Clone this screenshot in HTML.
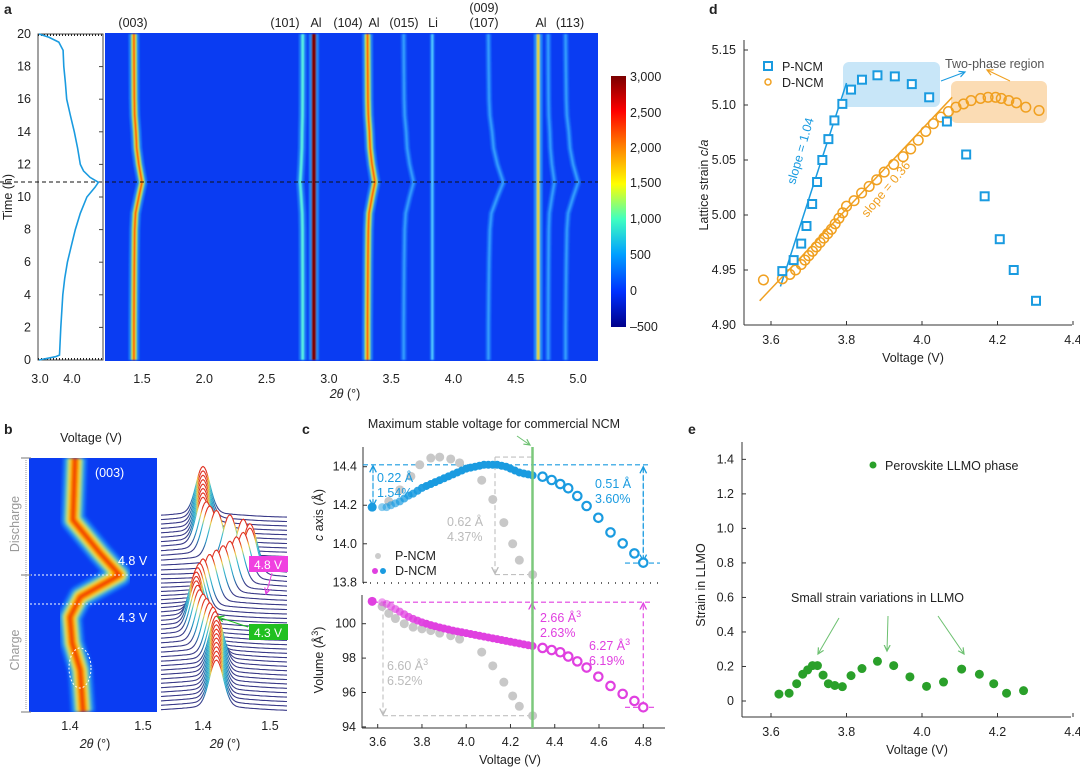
<!DOCTYPE html>
<html><head><meta charset="utf-8"><style>
html,body{margin:0;padding:0;background:#fff;}
svg{display:block;font-family:"Liberation Sans",sans-serif;}
text{fill:#222;}
</style></head><body>
<svg id="fig" xmlns="http://www.w3.org/2000/svg" width="1080" height="770" viewBox="0 0 1080 770">
<defs>
<linearGradient id="jet" x1="0" y1="0" x2="0" y2="1">
<stop offset="0" stop-color="#7a0000"/><stop offset="0.14" stop-color="#ff0000"/><stop offset="0.28" stop-color="#ff8000"/><stop offset="0.43" stop-color="#ffff00"/><stop offset="0.57" stop-color="#40ffc0"/><stop offset="0.71" stop-color="#00a0ff"/><stop offset="0.86" stop-color="#0030ff"/><stop offset="1" stop-color="#00008a"/>
</linearGradient>
<filter id="soft" x="-10%" y="-10%" width="120%" height="120%"><feGaussianBlur stdDeviation="0.9"/></filter>
<filter id="softB" x="-20%" y="-10%" width="140%" height="120%"><feGaussianBlur stdDeviation="1.6"/></filter>
<clipPath id="clipA"><rect x="105" y="33" width="493" height="328"/></clipPath>
<clipPath id="clipB"><rect x="29" y="458" width="128" height="254"/></clipPath>
<marker id="arrB" markerWidth="8" markerHeight="8" refX="6" refY="4" orient="auto"><path d="M0,1 L6,4 L0,7" fill="none" stroke="#1a9be0" stroke-width="1.2"/></marker>
<marker id="arrO" markerWidth="8" markerHeight="8" refX="6" refY="4" orient="auto"><path d="M0,1 L6,4 L0,7" fill="none" stroke="#f0a020" stroke-width="1.2"/></marker>
<marker id="arrG" markerWidth="8" markerHeight="8" refX="6" refY="4" orient="auto"><path d="M0,1 L6,4 L0,7" fill="none" stroke="#6cc070" stroke-width="1.2"/></marker>
<marker id="arrM" markerWidth="8" markerHeight="8" refX="6" refY="4" orient="auto"><path d="M0,1 L6,4 L0,7" fill="none" stroke="#e040e0" stroke-width="1.2"/></marker>
<marker id="arrGr" markerWidth="8" markerHeight="8" refX="6" refY="4" orient="auto"><path d="M0,1 L6,4 L0,7" fill="none" stroke="#bbb" stroke-width="1.2"/></marker>
<marker id="arrGreen" markerWidth="8" markerHeight="8" refX="6" refY="4" orient="auto"><path d="M0,1 L6,4 L0,7" fill="none" stroke="#20c020" stroke-width="1.2"/></marker>
</defs>

<text x="4" y="14" font-size="14" font-weight="bold">a</text>
<text x="4" y="434" font-size="14" font-weight="bold">b</text>
<text x="302" y="434" font-size="14" font-weight="bold">c</text>
<text x="709" y="14" font-size="14" font-weight="bold">d</text>
<text x="688" y="434" font-size="14" font-weight="bold">e</text>

<!-- Panel a -->
<g>
<rect x="38" y="34" width="65" height="326" fill="#fff" stroke="#444" stroke-width="1"/>
<line x1="38" y1="35" x2="103" y2="35" stroke="#222" stroke-width="2" stroke-dasharray="1,2"/>
<line x1="38" y1="359" x2="103" y2="359" stroke="#222" stroke-width="2" stroke-dasharray="1,2"/>
<rect x="105" y="33" width="493" height="328" fill="#0a3cf2"/>
<g id="heatA" clip-path="url(#clipA)" filter="url(#soft)"></g>
<line x1="0" y1="182" x2="598" y2="182" stroke="#111" stroke-width="1" stroke-dasharray="4,3"/>
<g font-size="12.5" text-anchor="middle">
<text x="133" y="27">(003)</text><text x="285" y="27">(101)</text><text x="316" y="27">Al</text><text x="348" y="27">(104)</text><text x="374" y="27">Al</text><text x="404" y="27">(015)</text><text x="433" y="27">Li</text><text x="484" y="12">(009)</text><text x="484" y="27">(107)</text><text x="541" y="27">Al</text><text x="570" y="27">(113)</text>
</g>
<g id="timeTicks" font-size="12.5" text-anchor="end"></g>
<text transform="translate(12,197) rotate(-90)" font-size="12.5" text-anchor="middle">Time (h)</text>
<text x="40" y="383" font-size="12.5" text-anchor="middle">3.0</text>
<text x="72" y="383" font-size="12.5" text-anchor="middle">4.0</text>
<g id="thetaTicks" font-size="12.5" text-anchor="middle"></g>
<text x="345" y="398" font-size="12.5" text-anchor="middle"><tspan font-style="italic">2θ</tspan> (°)</text>
<rect x="611" y="76" width="15" height="251" fill="url(#jet)"/>
<g font-size="12.5">
<text x="630" y="81">3,000</text><text x="630" y="117">2,500</text><text x="630" y="152">2,000</text><text x="630" y="187">1,500</text><text x="630" y="223">1,000</text><text x="630" y="259">500</text><text x="630" y="295">0</text><text x="630" y="331">–500</text>
</g>
</g>

<!-- Panel b -->
<g>
<text x="91" y="442" font-size="12.5" text-anchor="middle">Voltage (V)</text>
<rect x="29" y="458" width="128" height="254" fill="#0a3cf2"/>
<g id="heatB" clip-path="url(#clipB)" filter="url(#softB)"></g>
<text x="95" y="477" font-size="12.5" style="fill:#fff">(003)</text>
<line x1="22" y1="575" x2="160" y2="575" stroke="#fff" stroke-dasharray="2,2"/>
<line x1="22" y1="604" x2="160" y2="604" stroke="#fff" stroke-dasharray="2,2"/>
<text x="118" y="565" font-size="12.5" style="fill:#fff">4.8 V</text>
<text x="118" y="622" font-size="12.5" style="fill:#fff">4.3 V</text>
<ellipse cx="80" cy="668" rx="11" ry="20" fill="none" stroke="#fff" stroke-dasharray="2,2"/>
<line x1="26" y1="460" x2="26" y2="710" stroke="#999" stroke-dasharray="1,1"/>
<line x1="21" y1="458" x2="31" y2="458" stroke="#777"/><line x1="21" y1="575" x2="31" y2="575" stroke="#777"/><line x1="21" y1="712" x2="31" y2="712" stroke="#777"/>
<text transform="translate(19,524) rotate(-90)" font-size="12.5" text-anchor="middle" style="fill:#999">Discharge</text>
<text transform="translate(19,650) rotate(-90)" font-size="12.5" text-anchor="middle" style="fill:#999">Charge</text>
<g id="waterfall"></g>
<rect x="249" y="556" width="39" height="16" fill="#f040e0"/>
<text x="268" y="569" font-size="12" text-anchor="middle" style="fill:#fff">4.8 V</text>
<line x1="272" y1="573" x2="266" y2="594" stroke="#f040e0" marker-end="url(#arrM)"/>
<rect x="249" y="624" width="39" height="16" fill="#20c020"/>
<text x="268" y="637" font-size="12" text-anchor="middle" style="fill:#fff">4.3 V</text>
<line x1="248" y1="627" x2="218" y2="617" stroke="#20c020" marker-end="url(#arrGreen)"/>
<g font-size="12.5" text-anchor="middle">
<text x="70" y="730">1.4</text><text x="143" y="730">1.5</text><text x="203" y="730">1.4</text><text x="270" y="730">1.5</text>
</g>
<text x="95" y="748" font-size="12.5" text-anchor="middle"><tspan font-style="italic">2θ</tspan> (°)</text>
<text x="225" y="748" font-size="12.5" text-anchor="middle"><tspan font-style="italic">2θ</tspan> (°)</text>
</g>

<!-- Panel c -->
<g>
<text x="494" y="428" font-size="12.5" text-anchor="middle">Maximum stable voltage for commercial NCM</text>
<line x1="517" y1="436" x2="530" y2="445" stroke="#6cc070" marker-end="url(#arrG)"/>
<line x1="363" y1="447" x2="363" y2="583" stroke="#333"/>
<line x1="363" y1="583" x2="660" y2="583" stroke="#333" stroke-dasharray="1,6" stroke-width="1.5"/>
<line x1="362" y1="595" x2="362" y2="728" stroke="#333"/>
<line x1="362" y1="728" x2="665" y2="728" stroke="#333"/>
<g id="cTicks" font-size="12.5"></g>
<text transform="translate(323,515) rotate(-90)" font-size="12.5" text-anchor="middle"><tspan font-style="italic">c</tspan> axis (Å)</text>
<text transform="translate(323,660) rotate(-90)" font-size="12.5" text-anchor="middle">Volume (Å<tspan baseline-shift="super" font-size="9">3</tspan>)</text>
<text x="510" y="764" font-size="12.5" text-anchor="middle">Voltage (V)</text>
<g id="cAnno"></g>
<g id="cMarks"></g>
<line x1="532.5" y1="447" x2="532.5" y2="728" stroke="#7cc87c" stroke-width="2.5"/>
<g font-size="12.5">
<text x="377" y="482" style="fill:#1a9be0">0.22 Å</text><text x="377" y="497" style="fill:#1a9be0">1.54%</text>
<text x="595" y="488" style="fill:#1a9be0">0.51 Å</text><text x="595" y="503" style="fill:#1a9be0">3.60%</text>
<text x="447" y="526" style="fill:#bbb">0.62 Å</text><text x="447" y="541" style="fill:#bbb">4.37%</text>
<text x="540" y="622" style="fill:#e040e0">2.66 Å<tspan baseline-shift="super" font-size="9">3</tspan></text><text x="540" y="637" style="fill:#e040e0">2.63%</text>
<text x="589" y="650" style="fill:#e040e0">6.27 Å<tspan baseline-shift="super" font-size="9">3</tspan></text><text x="589" y="665" style="fill:#e040e0">6.19%</text>
<text x="387" y="670" style="fill:#bbb">6.60 Å<tspan baseline-shift="super" font-size="9">3</tspan></text><text x="387" y="685" style="fill:#bbb">6.52%</text>
</g>
<circle cx="378" cy="556" r="3" fill="#ccc"/>
<text x="395" y="560" font-size="12.5">P-NCM</text>
<circle cx="375" cy="571" r="3" fill="#e040e0"/><circle cx="383" cy="571" r="3" fill="#1a9be0"/>
<text x="395" y="575" font-size="12.5">D-NCM</text>
</g>

<!-- Panel d -->
<g>
<rect x="843" y="62" width="97" height="45" rx="6" fill="#c8e6f8"/>
<rect x="951" y="81" width="96" height="42" rx="6" fill="#fbdcb4"/>
<line x1="744" y1="40" x2="744" y2="325" stroke="#333"/>
<line x1="744" y1="325" x2="1072" y2="325" stroke="#333"/>
<g id="dTicks" font-size="12.5"></g>
<text transform="translate(708,185) rotate(-90)" font-size="12.5" text-anchor="middle">Lattice strain <tspan font-style="italic">c</tspan>/<tspan font-style="italic">a</tspan></text>
<text x="913" y="362" font-size="12.5" text-anchor="middle">Voltage (V)</text>
<g id="dMarks"></g>
<rect x="764" y="62" width="8" height="8" fill="none" stroke="#1a9be0" stroke-width="2"/>
<text x="782" y="71" font-size="12.5">P-NCM</text>
<circle cx="768" cy="82" r="3" fill="none" stroke="#f0a020" stroke-width="1.5"/>
<text x="782" y="87" font-size="12.5">D-NCM</text>
<text x="945" y="68" font-size="12.5" style="fill:#555">Two-phase region</text>
<line x1="941" y1="81" x2="965" y2="72" stroke="#1a9be0" marker-end="url(#arrB)"/>
<line x1="1010" y1="81" x2="987" y2="70" stroke="#f0a020" marker-end="url(#arrO)"/>
<text transform="translate(795,185) rotate(-74)" font-size="12.5" style="fill:#1a9be0">slope = 1.04</text>
<text transform="translate(867,218) rotate(-50)" font-size="12.5" style="fill:#f0a020">slope = 0.36</text>
</g>

<!-- Panel e -->
<g>
<line x1="742" y1="442" x2="742" y2="717" stroke="#333"/>
<line x1="742" y1="717" x2="1071" y2="717" stroke="#333"/>
<g id="eTicks" font-size="12.5"></g>
<text transform="translate(705,585) rotate(-90)" font-size="12.5" text-anchor="middle">Strain in LLMO</text>
<text x="917" y="754" font-size="12.5" text-anchor="middle">Voltage (V)</text>
<circle cx="873" cy="465" r="3.5" fill="#2aa02a"/>
<text x="885" y="470" font-size="12.5">Perovskite LLMO phase</text>
<text x="791" y="602" font-size="12.5">Small strain variations in LLMO</text>
<line x1="839" y1="618" x2="818" y2="654" stroke="#6cc070" marker-end="url(#arrG)"/>
<line x1="888" y1="616" x2="887" y2="651" stroke="#6cc070" marker-end="url(#arrG)"/>
<line x1="938" y1="616" x2="964" y2="654" stroke="#6cc070" marker-end="url(#arrG)"/>
<g id="eMarks"></g>
</g>
</svg>
<script>
// ---------- data ----------
const timeTicks = [0,2,4,6,8,10,12,14,16,18,20];
const thetaTicks = [1.5,2.0,2.5,3.0,3.5,4.0,4.5,5.0];
const voltTime = [0,0.2,0.3,2,4,5,6,7,8,9,10,10.6,10.9,11.2,11.6,12,13,14,15,16,17,18,19,19.5,19.8,20];
const voltValue = [3.0,3.5,3.62,3.66,3.72,3.78,3.86,3.98,4.1,4.25,4.45,4.7,4.8,4.55,4.35,4.25,4.17,4.07,3.95,3.84,3.8,3.75,3.73,3.6,3.3,3.0];
const profTime = [0,2,4,6,8,9,10,10.9,12,13,14,15,16,18,20];
const profShift = [0,0,0.02,0.05,0.1,0.2,0.6,1,0.6,0.35,0.25,0.1,0.05,0.02,0];
const peakPos = [1.435,2.79,2.88,3.31,3.6,3.83,4.28,4.68,4.76,4.9];
const peakShift = [0.065,-0.02,0,0.06,0.08,0,0.12,0,0.05,0.1];
const peakKind = ['strong','cyan','al','strong','faint','li','faint','al2','faint','faint'];
const bandY = [458,520,553,575,597,617,643,670,712];
const bandTheta = [1.407,1.404,1.441,1.468,1.414,1.400,1.403,1.414,1.418];
const wfCount = 45;
const wfTheta = [1.42,1.42,1.42,1.42,1.42,1.42,1.42,1.42,1.42,1.42,1.42,1.418,1.415,1.41,1.405,1.40,1.395,1.392,1.39,1.39,1.39,1.392,1.395,1.40,1.41,1.42,1.43,1.44,1.45,1.46,1.47,1.47,1.46,1.44,1.42,1.41,1.405,1.40,1.40,1.40,1.40,1.40,1.40,1.40,1.40];
const cTopTicks = [14.4,14.2,14.0,13.8];
const cBotTicks = [100,98,96,94];
const cXTicks = [3.6,3.8,4.0,4.2,4.4,4.6,4.8];
const dFilledV = [3.575,3.62,3.64,3.66,3.68,3.70,3.72,3.74,3.76,3.78,3.80,3.82,3.84,3.86,3.88,3.90,3.92,3.94,3.96,3.98,4.00,4.02,4.04,4.06,4.08,4.10,4.12,4.14,4.16,4.18,4.20,4.22,4.24,4.26,4.28,4.30];
const dFilledC = [14.19,14.19,14.19,14.20,14.21,14.22,14.235,14.25,14.26,14.275,14.29,14.30,14.31,14.32,14.33,14.34,14.35,14.36,14.37,14.38,14.39,14.395,14.40,14.405,14.41,14.41,14.41,14.41,14.405,14.40,14.39,14.38,14.37,14.365,14.36,14.355];
const dFilledVol = [101.3,101.25,101.15,101.0,100.85,100.7,100.55,100.4,100.28,100.18,100.08,100.0,99.92,99.85,99.78,99.72,99.66,99.6,99.55,99.5,99.45,99.4,99.35,99.3,99.25,99.2,99.15,99.1,99.05,99.0,98.95,98.9,98.85,98.8,98.75,98.7];
const dOpenV = [4.345,4.386,4.425,4.461,4.502,4.544,4.597,4.652,4.707,4.76,4.80];
const dOpenC = [14.348,14.331,14.31,14.288,14.248,14.196,14.135,14.059,14.002,13.95,13.902];
const dOpenVol = [98.59,98.47,98.34,98.09,97.81,97.45,96.92,96.38,95.92,95.51,95.14];
const pGreyV = [3.65,3.70,3.75,3.79,3.84,3.88,3.93,3.97,4.07,4.12,4.17,4.21,4.24,4.30];
const pGreyC = [14.22,14.28,14.35,14.41,14.445,14.45,14.44,14.42,14.33,14.23,14.11,14.0,13.915,13.84];
const pVolV = [3.62,3.65,3.68,3.72,3.76,3.80,3.84,3.88,3.93,3.97,4.07,4.12,4.17,4.21,4.24,4.30];
const pVolVal = [101.0,100.6,100.3,100.0,99.8,99.7,99.6,99.45,99.3,99.1,98.35,97.55,96.6,95.8,95.2,94.65];
const dYTicks = [4.90,4.95,5.00,5.05,5.10,5.15];
const dXTicks = [3.6,3.8,4.0,4.2,4.4];
const sqV = [3.63,3.66,3.68,3.694,3.709,3.722,3.736,3.752,3.768,3.789,3.812,3.841,3.882,3.928,3.973,4.019,4.066,4.117,4.166,4.206,4.243,4.302];
const sqR = [4.949,4.959,4.974,4.990,5.010,5.030,5.050,5.069,5.086,5.101,5.114,5.123,5.127,5.126,5.119,5.107,5.085,5.055,5.017,4.978,4.950,4.922];
const ciV = [3.58,3.63,3.65,3.665,3.68,3.69,3.70,3.71,3.72,3.73,3.74,3.75,3.76,3.77,3.78,3.79,3.80,3.82,3.84,3.86,3.88,3.90,3.925,3.95,3.97,3.99,4.01,4.03,4.05,4.07,4.09,4.11,4.13,4.155,4.175,4.195,4.21,4.23,4.25,4.275,4.31];
const ciR = [4.941,4.942,4.946,4.950,4.955,4.959,4.963,4.967,4.971,4.975,4.979,4.983,4.987,4.992,4.997,5.002,5.008,5.013,5.020,5.026,5.032,5.039,5.046,5.053,5.060,5.068,5.076,5.083,5.089,5.094,5.098,5.101,5.104,5.106,5.107,5.107,5.106,5.104,5.102,5.098,5.095];
const fitPV = [3.625,3.80], fitPR = [4.935,5.12];
const fitDV = [3.57,4.08], fitDR = [4.922,5.107];
const eYTicks = [0,0.2,0.4,0.6,0.8,1.0,1.2,1.4];
const eXTicks = [3.6,3.8,4.0,4.2,4.4];
const eV = [3.621,3.648,3.668,3.684,3.697,3.71,3.723,3.738,3.752,3.769,3.789,3.812,3.841,3.882,3.925,3.968,4.012,4.057,4.105,4.152,4.19,4.224,4.269];
const eS = [0.04,0.045,0.10,0.155,0.18,0.205,0.205,0.15,0.10,0.09,0.083,0.147,0.188,0.23,0.205,0.14,0.085,0.11,0.185,0.155,0.10,0.045,0.06];

// ---------- scales ----------
const NS = 'http://www.w3.org/2000/svg';
function mk(parent, tag, attrs){const e=document.createElementNS(NS,tag);for(const k in attrs)e.setAttribute(k,attrs[k]);parent.appendChild(e);return e;}
const g = id => document.getElementById(id);
const ax = th => 142 + (th-1.5)*124.6;
const at = t => 360 - t*16.3;
const vx = v => 39 + (v-3)*33;
const bx = th => 70 + (th-1.4)*730;
const wx = th => 203 + (th-1.4)*670;
const cx = v => 377.7 + (v-3.6)*221.3;
const cyT = c => 466.7 + (14.4-c)*192.7;
const cyB = v => 623.7 + (100-v)*17.2;
const dx = v => 771 + (v-3.6)*377.5;
const dy = r => 50 + (5.15-r)*1100;
const ey = s => 701 - s*172.6;
const svg = g('fig');

// ---------- panel a ----------
timeTicks.forEach(t=>{
  const tx = mk(g('timeTicks'),'text',{x:31,y:at(t)+4});
  tx.textContent = t;
  
  
  const tk = mk(g('timeTicks'),'line',{x1:99,x2:103,y1:at(t),y2:at(t),stroke:'#444'});
  
  
});
thetaTicks.forEach(t=>{
  const tx = mk(g('thetaTicks'),'text',{x:ax(t),y:383});
  tx.textContent = t.toFixed(1);
  
  
});
{
  let d = voltTime.map((t,i)=>(i?'L':'M')+vx(voltValue[i]).toFixed(1)+','+at(t).toFixed(1)).join(' ');
  const p = mk(svg,'path',{d:d,fill:'none',stroke:'#1a9be0','stroke-width':1.6});
  
  
}
const styles = {
  strong:[['#30d0ff',11,0.4],['#a0ff60',6,0.85],['#ffd000',3.5,0.9],['#ff3000',1.8,1]],
  cyan:[['#30c0ff',8,0.4],['#60ffe0',3,0.9]],
  al:[['#30d0ff',10,0.5],['#800000',4.5,1]],
  faint:[['#2090ff',6,0.5],['#40b0ff',2.2,0.8]],
  li:[['#2090ff',5,0.5],['#60e0ff',2,0.9]],
  al2:[['#30d0ff',9,0.5],['#e0ff40',3,1],['#ff8000',1,0.8]]
};
peakPos.forEach((pos,i)=>{
  const d = profTime.map((t,j)=>(j?'L':'M')+ax(pos+peakShift[i]*profShift[j]).toFixed(1)+','+at(t).toFixed(1)).join(' ');
  styles[peakKind[i]].forEach(s=>{
    const p = mk(g('heatA'),'path',{d:d,fill:'none',stroke:s[0],'stroke-width':s[1],opacity:s[2],'stroke-linejoin':'round'});
    
    
  });
});

// ---------- panel b ----------
{
  const d = bandY.map((y,i)=>(i?'L':'M')+bx(bandTheta[i]).toFixed(1)+','+y).join(' ');
  [['#20c0ff',24,0.5],['#80ff80',17,0.7],['#ffe000',12,1],['#ff9000',8,1],['#f03000',4,1]].forEach(s=>{
    const p = mk(g('heatB'),'path',{d:d,fill:'none',stroke:s[0],'stroke-width':s[1],opacity:s[2],'stroke-linejoin':'round'});
    
    
  });
}
{
  const defs = svg.querySelector('defs');
  for(let i=wfCount-1;i>=0;i--){
    const base = 712 - i*4.4;
    const h = 46;
    const px = wx(wfTheta[i]);
    let d='';
    for(let x=161;x<=288;x+=1.5){
      const z=(x-px)/7;
      const y = base - h*Math.exp(-z*z/2) - 6/(1+z*z/40);
      d += (d?'L':'M')+x.toFixed(1)+','+y.toFixed(1);
    }
    const gid='wg'+i;
    const lg = mk(defs,'linearGradient',{id:gid,gradientUnits:'userSpaceOnUse',x1:0,x2:0,y1:base,y2:base-h});
    [['0','#3a3a88'],['0.2','#3a3a88'],['0.45','#2090c0'],['0.7','#40c0d0'],['0.85','#f0d040'],['1','#e03020']].forEach(s=>mk(lg,'stop',{offset:s[0],'stop-color':s[1]}));
    const p = mk(g('waterfall'),'path',{d:d,fill:'#fff',stroke:'url(#'+gid+')','stroke-width':1.1});
    
    
  }
}

// ---------- panel c ----------
cTopTicks.forEach(t=>{
  const tx = mk(g('cTicks'),'text',{x:357,y:cyT(t)+4,'text-anchor':'end'});
  tx.textContent=t.toFixed(1);
  
  
  mk(g('cTicks'),'line',{x1:363,x2:367,y1:cyT(t),y2:cyT(t),stroke:'#333'});
});
cBotTicks.forEach(t=>{
  const tx = mk(g('cTicks'),'text',{x:356,y:cyB(t)+4,'text-anchor':'end'});
  tx.textContent=t;
  
  
  mk(g('cTicks'),'line',{x1:362,x2:366,y1:cyB(t),y2:cyB(t),stroke:'#333'});
});
cXTicks.forEach(t=>{
  const tx = mk(g('cTicks'),'text',{x:cx(t),y:746,'text-anchor':'middle'});
  tx.textContent=t.toFixed(1);
  
  
  mk(g('cTicks'),'line',{x1:cx(t),x2:cx(t),y1:728,y2:724,stroke:'#333'});
});
function dash(x1,y1,x2,y2,col,arrow){
  const l = mk(g('cAnno'),'line',{x1,y1,x2,y2,stroke:col,'stroke-dasharray':'5,3','stroke-width':1.1});
  if(arrow) l.setAttribute('marker-end',arrow);
  
  
}
const blue='#1a9be0', mag='#e040e0', grey='#c0c0c0';
dash(363,cyT(14.41),650,cyT(14.41),blue);
dash(625,cyT(13.9),660,cyT(13.9),blue);
dash(373,cyT(14.2),373,cyT(14.405),blue,'url(#arrB)');
dash(373,cyT(14.4),373,cyT(14.195),blue,'url(#arrB)');
dash(cx(4.8),cyT(14.4),cx(4.8),cyT(13.91),blue,'url(#arrB)');
dash(cx(4.8),cyT(13.91),cx(4.8),cyT(14.4),blue,'url(#arrB)');
dash(495,cyT(14.45),532,cyT(14.45),grey);
dash(495,cyT(14.45),495,cyT(13.845),grey,'url(#arrGr)');
dash(495,cyT(13.84),532,cyT(13.84),grey);
dash(373,cyB(101.25),650,cyB(101.25),mag);
dash(532,cyB(98.7),532,cyB(101.2),mag,'url(#arrM)');
dash(cx(4.8),cyB(95.2),cx(4.8),cyB(101.2),mag,'url(#arrM)');
dash(625,cyB(95.14),655,cyB(95.14),mag);
dash(383,cyB(101.0),383,cyB(94.7),grey,'url(#arrGr)');
dash(383,cyB(94.65),532,cyB(94.65),grey);
pGreyV.forEach((v,i)=>{const c=mk(g('cMarks'),'circle',{cx:cx(v),cy:cyT(pGreyC[i]),r:4.5,fill:'#c8c8c8'});
  
  });
pVolV.forEach((v,i)=>{const c=mk(g('cMarks'),'circle',{cx:cx(v),cy:cyB(pVolVal[i]),r:4.5,fill:'#c8c8c8'});
  
  });
dFilledV.forEach((v,i)=>{
  const op = i<12 ? 0.45+0.05*i : 1;
  const a=mk(g('cMarks'),'circle',{cx:cx(v),cy:cyT(dFilledC[i]),r:i===0?4.5:4,fill:blue,opacity:i===0?1:op});
  
  
  const b=mk(g('cMarks'),'circle',{cx:cx(v),cy:cyB(dFilledVol[i]),r:i===0?4.5:4,fill:mag,opacity:i===0?1:op});
  
  
});
dOpenV.forEach((v,i)=>{
  const a=mk(g('cMarks'),'circle',{cx:cx(v),cy:cyT(dOpenC[i]),r:4.2,fill:'#fff',stroke:blue,'stroke-width':2.2});
  
  
  const b=mk(g('cMarks'),'circle',{cx:cx(v),cy:cyB(dOpenVol[i]),r:4.2,fill:'#fff',stroke:mag,'stroke-width':2.2});
  
  
});

// ---------- panel d ----------
dYTicks.forEach(t=>{
  const tx=mk(g('dTicks'),'text',{x:736,y:dy(t)+4,'text-anchor':'end'});
  tx.textContent=t.toFixed(2);
  
  
  mk(g('dTicks'),'line',{x1:744,x2:748,y1:dy(t),y2:dy(t),stroke:'#333'});
});
dXTicks.forEach(t=>{
  const tx=mk(g('dTicks'),'text',{x:dx(t),y:344,'text-anchor':'middle'});
  tx.textContent=t.toFixed(1);
  
  
  mk(g('dTicks'),'line',{x1:dx(t),x2:dx(t),y1:325,y2:321,stroke:'#333'});
});
{
  const l1=mk(g('dMarks'),'line',{x1:dx(fitPV[0]),y1:dy(fitPR[0]),x2:dx(fitPV[1]),y2:dy(fitPR[1]),stroke:blue,'stroke-width':1.5});
  
  
  const l2=mk(g('dMarks'),'line',{x1:dx(fitDV[0]),y1:dy(fitDR[0]),x2:dx(fitDV[1]),y2:dy(fitDR[1]),stroke:'#f0a020','stroke-width':1.5});
  
  
}
ciV.forEach((v,i)=>{
  const c=mk(g('dMarks'),'circle',{cx:dx(v),cy:dy(ciR[i]),r:4.8,fill:'none',stroke:'#f0a020','stroke-width':1.5});
  
  
});
sqV.forEach((v,i)=>{
  const r=mk(g('dMarks'),'rect',{x:dx(v)-4,y:dy(sqR[i])-4,width:8,height:8,fill:'#fff',stroke:blue,'stroke-width':2});
  
  
});

// ---------- panel e ----------
eYTicks.forEach(t=>{
  const tx=mk(g('eTicks'),'text',{x:734,y:ey(t)+4,'text-anchor':'end'});
  tx.textContent=t===0?'0':t.toFixed(1);
  
  
  mk(g('eTicks'),'line',{x1:742,x2:746,y1:ey(t),y2:ey(t),stroke:'#333'});
});
eXTicks.forEach(t=>{
  const tx=mk(g('eTicks'),'text',{x:dx(t),y:736,'text-anchor':'middle'});
  tx.textContent=t.toFixed(1);
  
  
  mk(g('eTicks'),'line',{x1:dx(t),x2:dx(t),y1:717,y2:713,stroke:'#333'});
});
eV.forEach((v,i)=>{
  const c=mk(g('eMarks'),'circle',{cx:dx(v),cy:ey(eS[i]),r:4.5,fill:'#2aa02a'});
  
  
});
</script>
</body></html>
